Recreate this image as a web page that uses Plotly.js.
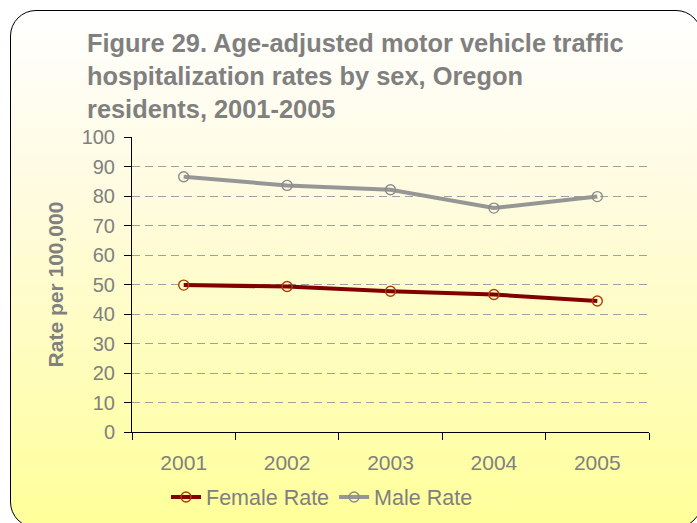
<!DOCTYPE html>
<html>
<head>
<meta charset="utf-8">
<script src="https://cdn.plot.ly/plotly-3.0.1.min.js"></script>
<style>
  html, body { margin: 0; padding: 0; background: #ffffff; width: 697px; height: 523px; overflow: hidden; }
  #frame {
    position: absolute; left: 10px; top: 10px; width: 690px; height: 516px;
    border: 1.3px solid #000; border-radius: 26px;
    background: linear-gradient(to bottom, #ffffff 0%, #fffbe0 35%, #ffff99 100%);
  }
  #chart { position: absolute; left: 0; top: 0; width: 697px; height: 523px; }
</style>
</head>
<body>
<div id="frame"></div>
<div id="chart"></div>
<script>
var years = ["2001", "2002", "2003", "2004", "2005"];
var femaleRate = [49.8, 49.3, 47.7, 46.6, 44.4];
var maleRate = [86.5, 83.6, 82.1, 75.9, 79.8];
var yTicks = [0, 10, 20, 30, 40, 50, 60, 70, 80, 90, 100];
var titleLines = [
  "Figure 29. Age-adjusted motor vehicle traffic",
  "hospitalization rates by sex, Oregon",
  "residents, 2001-2005"
];
var yTitle = "Rate per 100,000";

var FONT = "Liberation Sans, Arial, sans-serif";
var GRAY = "#808080";

var traces = [
  {
    x: years, y: femaleRate, name: "Female Rate", type: "scatter", mode: "lines+markers",
    line: { color: "#800000", width: 4 },
    marker: { symbol: "circle-open", size: 10, color: "#b03c00", line: { width: 1.4, color: "#b03c00" } }
  },
  {
    x: years, y: maleRate, name: "Male Rate", type: "scatter", mode: "lines+markers",
    line: { color: "#969696", width: 4 },
    marker: { symbol: "circle-open", size: 10, color: "#8c8c8c", line: { width: 1.4, color: "#8c8c8c" } }
  }
];

var layout = {
  width: 697, height: 523,
  paper_bgcolor: "rgba(0,0,0,0)",
  plot_bgcolor: "rgba(0,0,0,0)",
  margin: { l: 132, r: 48, t: 137, b: 91, pad: 0 },
  font: { family: FONT, color: GRAY, size: 20 },
  title: {
    text: titleLines.join("<br>"),
    font: { family: FONT, size: 25.4, color: GRAY, weight: "bold" },
    xref: "container", yref: "container",
    x: 87 / 697, xanchor: "left",
    y: 1 - 52 / 523, yanchor: "top"
  },
  showlegend: true,
  legend: {
    orientation: "h",
    xref: "container", yref: "container",
    x: 166 / 697, xanchor: "left",
    y: 1 - 497 / 523, yanchor: "middle",
    font: { family: FONT, size: 21.5, color: GRAY },
    bgcolor: "rgba(0,0,0,0)"
  },
  xaxis: {
    type: "category",
    range: [-0.5, 4.5],
    tickson: "boundaries",
    ticks: "outside", ticklen: 7, tickwidth: 1, tickcolor: "#000",
    showline: true, linecolor: "#000", linewidth: 1,
    showgrid: false, zeroline: false,
    tickfont: { family: FONT, size: 21, color: GRAY },
    ticklabelstandoff: 12,
    fixedrange: true
  },
  yaxis: {
    range: [0, 100],
    tickvals: yTicks,
    ticktext: yTicks.map(String),
    ticks: "outside", ticklen: 7, tickwidth: 1, tickcolor: "#000",
    showline: true, linecolor: "#000", linewidth: 1,
    showgrid: true, gridcolor: "#a0a0a0", gridwidth: 1, griddash: "8px,5px",
    zeroline: false,
    tickfont: { family: FONT, size: 20, color: GRAY },
    ticklabelstandoff: 5,
    title: { text: yTitle, font: { family: FONT, size: 21, color: GRAY, weight: "bold" }, standoff: 12 },
    fixedrange: true
  }
};

Plotly.newPlot("chart", traces, layout, { displayModeBar: false, staticPlot: true });
</script>
</body>
</html>
